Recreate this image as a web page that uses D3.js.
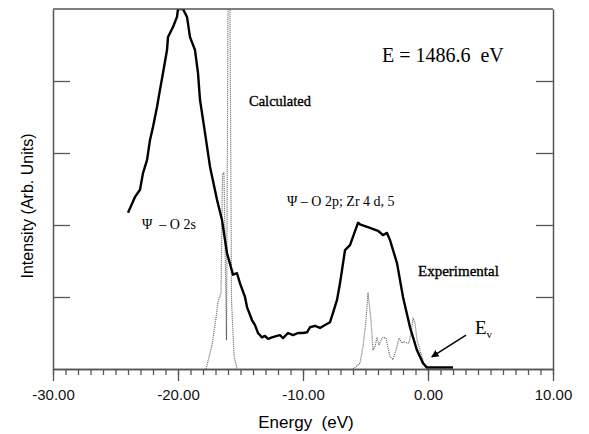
<!DOCTYPE html>
<html>
<head>
<meta charset="utf-8">
<script src="https://cdn.jsdelivr.net/npm/d3@7"></script>
<style>
  body { margin: 0; background: #fff; }
  svg { display: block; }
</style>
</head>
<body>
<script>
// ---------------------- DATA ----------------------

// experimental XPS valence band (thick black)
const expEnergy = [-24.0, -23.44, -23.04, -22.8, -22.48, -22.24, -22.0, -21.68, -21.44, -21.2,
  -20.88, -20.8, -20.4, -20.08, -20.0, -19.6, -19.28, -19.04, -18.64, -18.4,
  -18.24, -17.84, -17.44, -16.88, -16.48, -16.08, -15.6, -15.28, -15.04, -14.64,
  -14.48, -14.08, -13.84, -13.6, -13.28, -13.04, -12.8, -12.48, -12.08, -11.84,
  -11.6, -11.2, -10.8, -10.4, -10.0, -9.68, -9.44, -9.04, -8.64, -8.24,
  -7.84, -7.6, -7.28, -7.04, -6.64, -6.24, -5.6, -5.44, -4.64, -4.0,
  -3.6, -3.28, -3.04, -2.48, -2.0, -1.44, -0.88, -0.4, -0.08, 2.0];
const expIntensity = [2.17, 2.39, 2.49, 2.72, 2.9, 3.18, 3.36, 3.64, 3.88, 4.11,
  4.43, 4.61, 4.75, 4.89, 5.0, 5.0, 4.89, 4.61, 4.43, 4.11,
  3.74, 3.28, 2.81, 2.35, 2.07, 1.61, 1.31, 1.33, 1.19, 1.0,
  0.86, 0.68, 0.61, 0.5, 0.44, 0.46, 0.42, 0.44, 0.46, 0.47,
  0.43, 0.5, 0.47, 0.5, 0.5, 0.51, 0.58, 0.6, 0.57, 0.61,
  0.65, 0.78, 0.96, 1.19, 1.65, 1.72, 2.03, 2.01, 1.96, 1.92,
  1.86, 1.89, 1.79, 1.47, 1.0, 0.58, 0.26, 0.08, 0.02, 0.02];

// calculated DOS, O 2s band (dotted)
const calcSEnergy = [-17.76, -17.28, -16.96, -16.8, -16.56, -16.44, -16.32, -16.12, -16.0, -15.84,
  -15.72, -15.52, -15.28];
const calcSIntensity = [0, 0.33, 0.71, 0.93, 1.06, 2.72, 2.72, 0.4, 5.0, 5.0,
  0.96, 0.19, 0];

// calculated DOS, O 2p / Zr 4d band (dotted)
const calcPEnergy = [-6.0, -5.44, -5.2, -4.96, -4.8, -4.56, -4.4, -4.24, -4.08, -3.92,
  -3.68, -3.6, -3.36, -3.28, -3.04, -2.8, -2.48, -2.32, -2.08, -1.92,
  -1.68, -1.52, -1.28, -1.2, -1.04, -0.88, -0.8, -0.64, -0.4, -0.24, -0.08];
const calcPIntensity = [0, 0.08, 0.31, 0.68, 1.06, 0.68, 0.26, 0.31, 0.44, 0.33,
  0.43, 0.44, 0.43, 0.36, 0.17, 0.13, 0.31, 0.43, 0.36, 0.38,
  0.36, 0.36, 0.58, 0.71, 0.64, 0.4, 0.36, 0.26, 0.12, 0.03, 0];

const xMajorTicks = [-30, -20, -10, 0, 10];
const xMinorTicks = d3.range(-30, 11, 1);
const yTicks = [1, 2, 3, 4];

// ---------------------- LAYOUT ----------------------

const width = 589, height = 434;
const frameColor = "#555";

const svg = d3.select("body").append("svg")
    .attr("width", width)
    .attr("height", height);

const x = d3.scaleLinear().domain([-30, 10]).range([53, 553]);
const y = d3.scaleLinear().domain([0, 5]).range([369, 9]);

svg.append("clipPath").attr("id", "plot")
  .append("rect")
    .attr("x", x(-30)).attr("y", y(5))
    .attr("width", x(10) - x(-30)).attr("height", y(0) - y(5));

const zip = (xs, ys) => xs.map((e, i) => [e, ys[i]]);
const line = d3.line().x(d => x(d[0])).y(d => y(d[1]));

// ---------------------- CURVES ----------------------

const curves = svg.append("g").attr("clip-path", "url(#plot)");

[zip(calcSEnergy, calcSIntensity), zip(calcPEnergy, calcPIntensity)].forEach(pts => {
  curves.append("path")
      .attr("d", line(pts))
      .attr("fill", "none")
      .attr("stroke", "#666")
      .attr("stroke-width", 1.2)
      .attr("stroke-dasharray", "1,1");
});

curves.append("path")
    .attr("d", line(zip(expEnergy, expIntensity)))
    .attr("fill", "none")
    .attr("stroke", "#000")
    .attr("stroke-width", 2.4)
    .attr("stroke-linejoin", "round");

// ---------------------- AXES ----------------------

function styleAxis(g) {
  g.select(".domain").attr("stroke", frameColor).attr("stroke-width", 1.5);
  g.selectAll(".tick line").attr("stroke", frameColor).attr("stroke-width", 1.3);
}

svg.append("g")
    .attr("transform", `translate(0,${y(0)})`)
    .call(d3.axisBottom(x).tickValues(xMinorTicks).tickSize(6).tickFormat("").tickSizeOuter(0))
    .call(styleAxis);

svg.append("g")
    .attr("transform", `translate(0,${y(0)})`)
    .call(d3.axisBottom(x).tickValues(xMajorTicks).tickSize(12).tickSizeOuter(0)
      .tickFormat(d => d.toFixed(2)))
    .call(styleAxis)
    .call(g => g.selectAll("text")
      .attr("y", 20)
      .attr("fill", "#111")
      .style("font", "15px 'Liberation Sans', Arial, sans-serif"));

svg.append("g")
    .attr("transform", `translate(${x(-30)},0)`)
    .call(d3.axisLeft(y).tickValues(yTicks).tickSize(-17).tickFormat("").tickSizeOuter(0))
    .call(styleAxis);

svg.append("g")
    .attr("transform", `translate(${x(10)},0)`)
    .call(d3.axisRight(y).tickValues(yTicks).tickSize(-17).tickFormat("").tickSizeOuter(0))
    .call(styleAxis);

svg.append("line")
    .attr("x1", x(-30)).attr("x2", x(10))
    .attr("y1", y(5)).attr("y2", y(5))
    .attr("stroke", frameColor).attr("stroke-width", 1.5);

// axis titles
svg.append("text")
    .attr("x", 306).attr("y", 428)
    .attr("text-anchor", "middle")
    .style("font", "17px 'Liberation Sans', Arial, sans-serif")
    .style("white-space", "pre")
    .text("Energy  (eV)");

svg.append("text")
    .attr("transform", "translate(33,206) rotate(-90)")
    .attr("text-anchor", "middle")
    .style("font", "16px 'Liberation Sans', Arial, sans-serif")
    .text("Intensity (Arb. Units)");

// ---------------------- ANNOTATIONS ----------------------

const serif = "'Liberation Serif', 'Times New Roman', serif";

function note(px, py, size, txt, heavy) {
  const t = svg.append("text")
      .attr("x", px).attr("y", py)
      .style("font-family", serif)
      .style("font-size", size + "px")
      .style("white-space", "pre")
      .text(txt);
  if (heavy) t.attr("stroke", "#000").attr("stroke-width", 0.35);
  return t;
}

note(382, 62, 20, "E = 1486.6  eV");
note(249, 106, 14.5, "Calculated", true);
note(418, 276, 15, "Experimental", true);
note(142, 229, 14, "\u03A8  \u2013 O 2s");
note(287, 206, 14, "\u03A8 \u2013 O 2p; Zr 4 d, 5");

const ev = note(475, 334, 19, "E");
ev.append("tspan").attr("dy", 4).style("font-size", "11px").text("v");

svg.append("defs").append("marker")
    .attr("id", "arrow")
    .attr("viewBox", "0 0 10 10")
    .attr("refX", 9).attr("refY", 5)
    .attr("markerWidth", 5).attr("markerHeight", 5)
    .attr("orient", "auto")
  .append("path")
    .attr("d", "M0,0L10,5L0,10Z")
    .attr("fill", "#000");

svg.append("line")
    .attr("x1", x(3.04)).attr("y1", y(0.47))
    .attr("x2", x(0.3)).attr("y2", y(0.17))
    .attr("stroke", "#000")
    .attr("stroke-width", 1.5)
    .attr("marker-end", "url(#arrow)");
</script>
</body>
</html>
